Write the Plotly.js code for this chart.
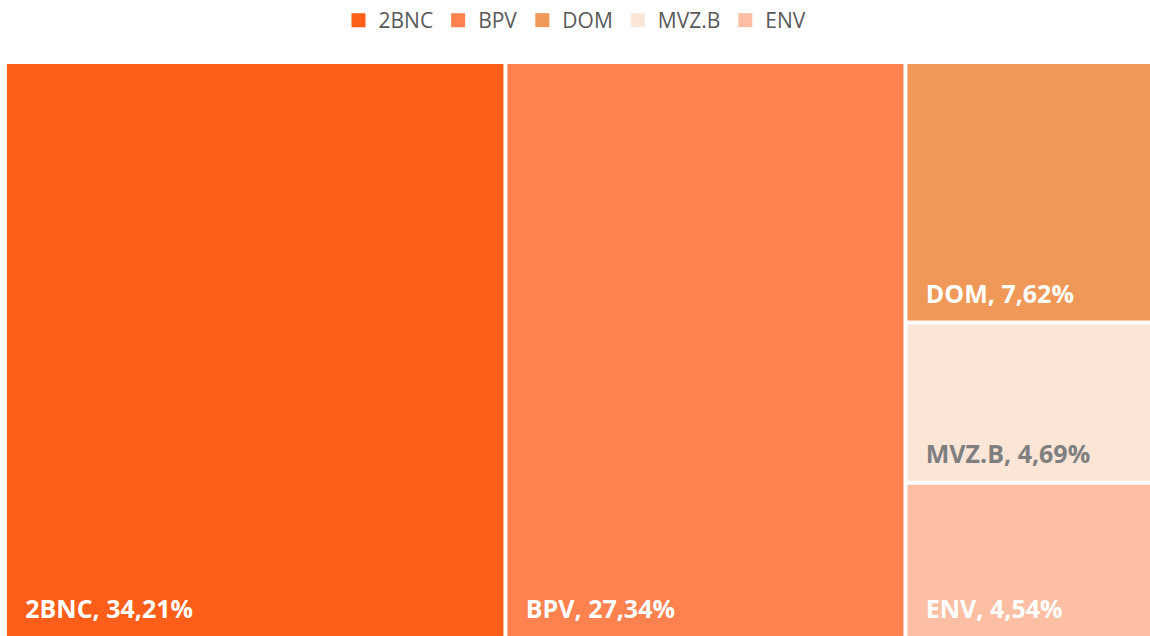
<!DOCTYPE html>
<html>
<head>
<meta charset="utf-8">
<script src="https://cdn.plot.ly/plotly-3.0.1.min.js"></script>
<style>html,body{margin:0;padding:0;background:#fff;}#chart{width:1150px;height:636px;}</style>
</head>
<body>
<div id="chart"></div>
<script>
const labels = ['2BNC', 'BPV', 'DOM', 'MVZ.B', 'ENV'];
const values = [34.21, 27.34, 7.62, 4.69, 4.54];
const colors = ['#FE5E19', '#FD8250', '#F09858', '#FAE5D7', '#FDBFA4'];
const textColors = ['#ffffff', '#ffffff', '#ffffff', '#7f7f7f', '#ffffff'];

const rootId = 'root';
const ids = [rootId].concat(labels);
const parents = [''].concat(labels.map(() => rootId));
const tmValues = [0].concat(values);
const tmColors = ['#ffffff'].concat(colors);
const tmText = ['#ffffff'].concat(textColors);
const leafTemplate = '\u00a0<span style="font-size:25px">\u00a0\u00a0%{label}, %{value:.2f}%</span><br>\u00a0';
const templates = [''].concat(labels.map(() => leafTemplate));

const treemap = {
  type: 'treemap',
  ids: ids,
  labels: [''].concat(labels),
  parents: parents,
  values: tmValues,
  branchvalues: 'remainder',
  sort: true,
  marker: { colors: tmColors, line: { width: 0 }, pad: { t: 0, l: 0, r: 0, b: 0 } },
  tiling: { packing: 'squarify', pad: 4 },
  pathbar: { visible: false },
  texttemplate: templates,
  textposition: 'bottom left',
  textfont: { family: 'Open Sans', size: 9, color: tmText, weight: 'bold' },
  hoverinfo: 'label+value',
  domain: { x: [0.006, 1], y: [0, 0.8994] },
  showlegend: false
};

const legendTraces = labels.map((lab, i) => ({
  type: 'scatter',
  mode: 'markers',
  x: [null], y: [null],
  name: lab,
  marker: { symbol: 'square', size: 14, color: colors[i] },
  showlegend: true,
  hoverinfo: 'skip'
}));

const layout = {
  width: 1150, height: 636,
  margin: { l: 0, r: 0, t: 0, b: 0 },
  paper_bgcolor: '#ffffff',
  plot_bgcolor: '#ffffff',
  separators: ', ',
  showlegend: true,
  legend: {
    orientation: 'h', x: 0.5, xanchor: 'center', y: 1, yanchor: 'top',
    font: { family: 'Open Sans', size: 21, color: '#595959' },
    itemwidth: 30, traceorder: 'normal'
  },
  xaxis: { visible: false, domain: [0, 0.001] },
  yaxis: { visible: false, domain: [0, 0.001] }
};

Plotly.newPlot('chart', [treemap].concat(legendTraces), layout, { displayModeBar: false, staticPlot: true });
</script>
</body>
</html>
